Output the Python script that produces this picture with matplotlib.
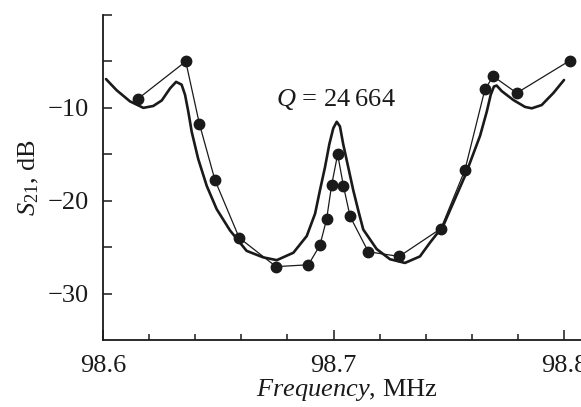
import matplotlib
matplotlib.use('Agg')
import matplotlib.pyplot as plt

# %% data ---------------------------------------------------------------------

# measured points (dots joined by a thin line)
meas_freq = [98.6153, 98.6359, 98.6418, 98.6486, 98.6591, 98.6751, 98.6891,
             98.6941, 98.6970, 98.6992, 98.7018, 98.7043, 98.7072, 98.7151,
             98.7285, 98.7466, 98.7570, 98.7657, 98.7693, 98.7795, 98.8026]
meas_s21 = [-9.0, -5.0, -11.7, -17.8, -24.0, -27.1, -26.9,
            -24.8, -22.0, -18.3, -15.0, -18.4, -21.7, -25.5,
            -26.0, -23.0, -16.7, -8.0, -6.6, -8.4, -4.9]

# calculated curve (thick line)
calc_freq = [98.6013, 98.6059, 98.6117, 98.6175, 98.6218, 98.6255, 98.6291,
             98.6317, 98.6341, 98.6356, 98.6370, 98.6385, 98.6413, 98.6450,
             98.6493, 98.6551, 98.6623, 98.6695, 98.6754, 98.6826, 98.6884,
             98.6920, 98.6941, 98.6963, 98.6982, 98.6999, 98.7014, 98.7028,
             98.7042, 98.7064, 98.7086, 98.7108, 98.7129, 98.7187, 98.7245,
             98.7310, 98.7375, 98.7419, 98.7476, 98.7520, 98.7571, 98.7636,
             98.7665, 98.7682, 98.7696, 98.7708, 98.7730, 98.7780, 98.7831,
             98.7860, 98.7903, 98.7954, 98.8000]
calc_s21 = [-6.9, -8.1, -9.3, -10.0, -9.8, -9.2, -7.9,
            -7.2, -7.5, -8.6, -10.4, -12.6, -15.5, -18.4,
            -20.9, -23.2, -25.4, -26.1, -26.4, -25.6, -23.8,
            -21.4, -18.9, -16.4, -13.9, -12.2, -11.5, -12.0,
            -13.9, -16.4, -18.9, -21.1, -23.1, -25.2, -26.3,
            -26.7, -26.0, -24.5, -22.7, -20.2, -17.3, -13.0,
            -10.4, -8.6, -7.7, -7.6, -8.2, -9.15, -9.9,
            -10.05, -9.7, -8.4, -7.0]

x_major = [98.6, 98.7, 98.8]
x_labels = ['98.6', '98.7', '98.8']
y_major = [-30, -20, -10]
y_labels = ['\u221230', '\u221220', '\u221210']

# %% plot ---------------------------------------------------------------------

plt.rcParams['font.family'] = 'Liberation Serif'
plt.rcParams['mathtext.fontset'] = 'custom'
plt.rcParams['mathtext.rm'] = 'Liberation Serif'
plt.rcParams['mathtext.it'] = 'Liberation Serif:italic'

fig = plt.figure(figsize=(5.81, 4.07), dpi=100)
ax = fig.add_axes([103/581, 67/407, 478/581, 325/407])

ax.plot(calc_freq, calc_s21, color='#1a1a1a', lw=1.9,
        solid_joinstyle='round', solid_capstyle='round')
ax.plot(meas_freq, meas_s21, color='#1a1a1a', lw=0.9, marker='o',
        markersize=7.5, markerfacecolor='#1a1a1a', markeredgecolor='#1a1a1a')

ax.set_xlim(98.6, 98.6 + 478/2305)
ax.set_ylim(-35, 0)

ax.set_xticks(x_major)
ax.set_xticklabels(x_labels)
ax.set_xticks([98.62, 98.64, 98.66, 98.68, 98.72, 98.74, 98.76, 98.78],
              minor=True)
ax.set_yticks(y_major)
ax.set_yticklabels(y_labels)
ax.set_yticks([-25, -15, -5, 0], minor=True)

ax.tick_params(which='both', direction='in', width=1.1, labelsize=19,
               colors='#1a1a1a')
ax.tick_params(axis='x', which='major', length=7.5, pad=11)
ax.tick_params(axis='x', which='minor', length=4.5)
ax.tick_params(axis='y', which='both', length=6.5, pad=10)

for side in ['top', 'right']:
    ax.spines[side].set_visible(False)
for side in ['left', 'bottom']:
    ax.spines[side].set_linewidth(1.3)
    ax.spines[side].set_color('#1a1a1a')

ax.set_xlabel('$Frequency$, MHz', fontsize=19, labelpad=0, color='#1a1a1a')
ax.xaxis.label.set_x(0.51)
ax.set_ylabel('$S_{21}$, dB', fontsize=19, labelpad=5, color='#1a1a1a')

ax.text(98.6752, -9.85, '$Q$ = 24\u2009664', fontsize=19, va='baseline',
        ha='left', color='#1a1a1a')

fig.savefig('out.png', dpi=100)
